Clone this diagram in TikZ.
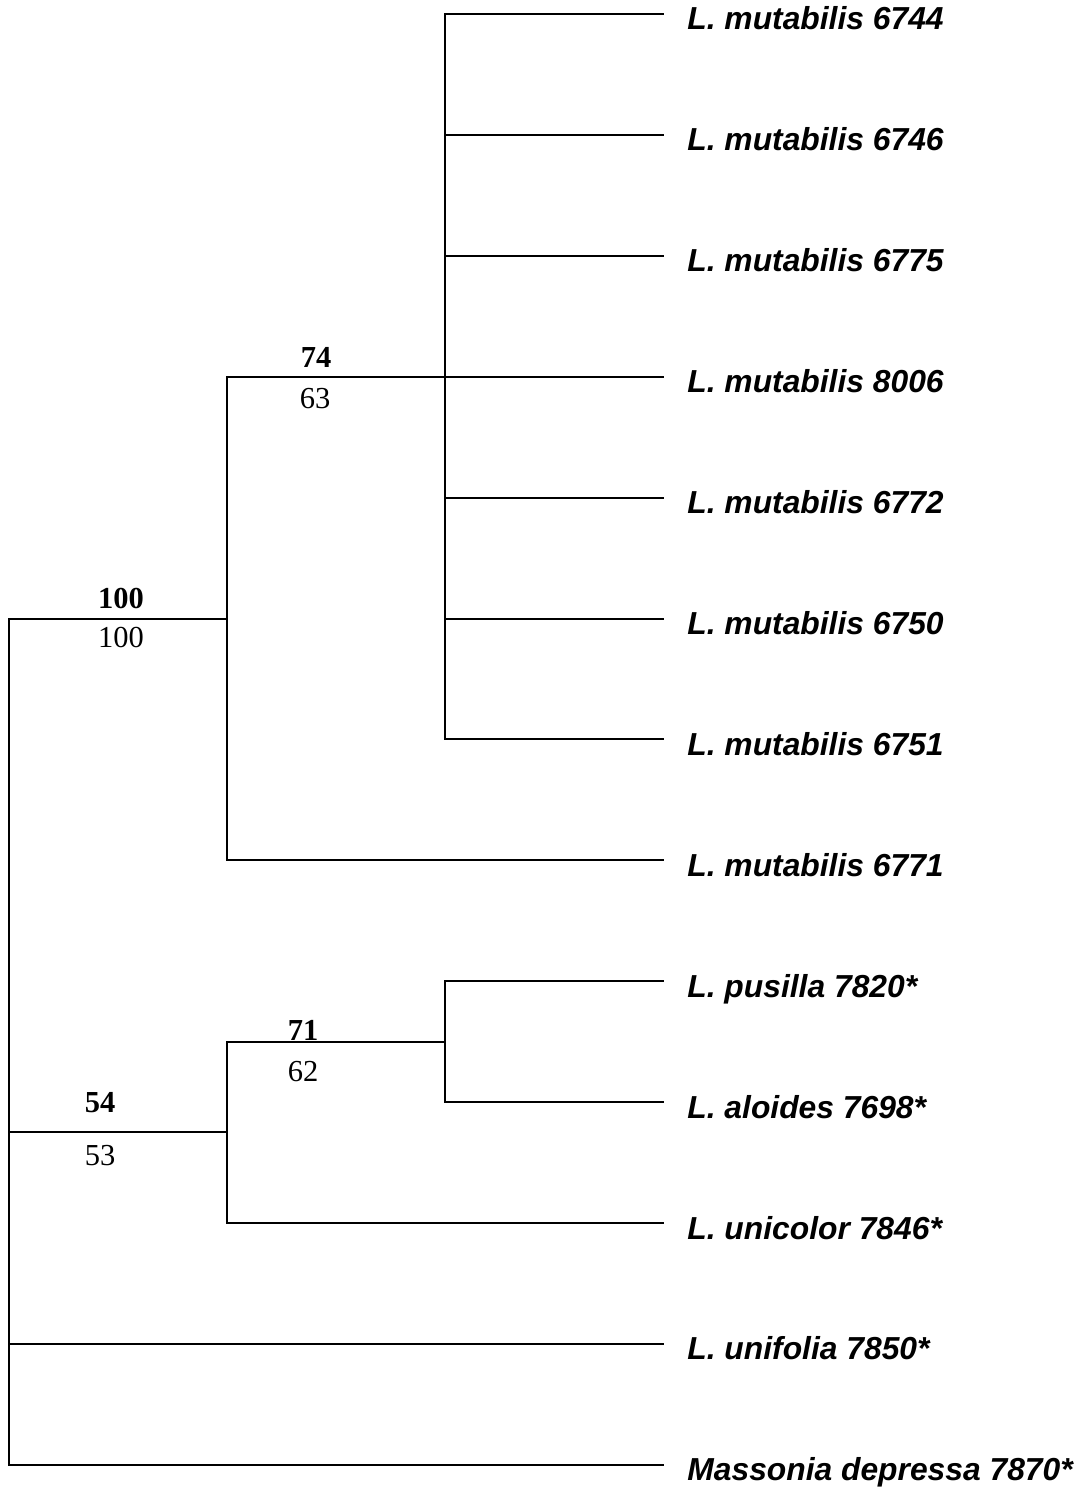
\documentclass[tikz,border=0pt]{standalone}
\usepackage{fontspec}
\setmainfont{Liberation Serif}
\newfontfamily\leaffont{Liberation Sans}
\begin{document}
\begin{tikzpicture}[x=0.5pt,y=-0.5pt,
  branch/.style={line width=1pt, line cap=rect},
  leaf/.style={anchor=base west, inner sep=0pt, font=\leaffont\fontsize{15.9pt}{18pt}\selectfont\bfseries\itshape},
  bsbold/.style={anchor=base, inner sep=0pt, font=\fontsize{15.25pt}{18pt}\selectfont\bfseries},
  bsplain/.style={anchor=base, inner sep=0pt, font=\fontsize{15.25pt}{18pt}\selectfont}]
\useasboundingbox (0,0) rectangle (1080,1487);
% leaves
\foreach \i/\name/\txt in {0/a/{L. mutabilis 6744},1/b/{L. mutabilis 6746},2/c/{L. mutabilis 6775},3/d/{L. mutabilis 8006},4/e/{L. mutabilis 6772},5/f/{L. mutabilis 6750},6/g/{L. mutabilis 6751},7/h/{L. mutabilis 6771},8/i/{L. pusilla 7820*},9/j/{L. aloides 7698*},10/k/{L. unicolor 7846*},11/l/{L. unifolia 7850*},12/m/{Massonia depressa 7870*}}{
  \coordinate (e\name) at (663,14+120.9*\i);
  \node[leaf] (t\name) at (687,30+120.9*\i) {\txt};
}
% internal nodes
\coordinate (n74) at (445,376.7);
\coordinate (n100) at (227,618.5);
\coordinate (n71) at (445,1041.65);
\coordinate (n54) at (227,1132.3);
\coordinate (root) at (8.5,1041.65);
% branches
\foreach \x in {a,b,c,d,e,f,g} \draw[branch] (n74) |- (e\x);
\draw[branch] (n100) |- (n74);
\draw[branch] (n100) |- (eh);
\draw[branch] (n71) |- (ei);
\draw[branch] (n71) |- (ej);
\draw[branch] (n54) |- (n71);
\draw[branch] (n54) |- (ek);
\draw[branch] (root) |- (n100);
\draw[branch] (root) |- (n54);
\draw[branch] (root) |- (el);
\draw[branch] (root) |- (em);
% support values
\node[bsbold] (b100) at (121,608) {100};
\node[bsplain] (p100) at (121,647) {100};
\node[bsbold] (b74) at (316,367) {74};
\node[bsplain] (p63) at (315,408) {63};
\node[bsbold] (b71) at (303,1040) {71};
\node[bsplain] (p62) at (303,1081) {62};
\node[bsbold] (b54) at (100,1112) {54};
\node[bsplain] (p53) at (100,1165) {53};
\end{tikzpicture}
\end{document}
